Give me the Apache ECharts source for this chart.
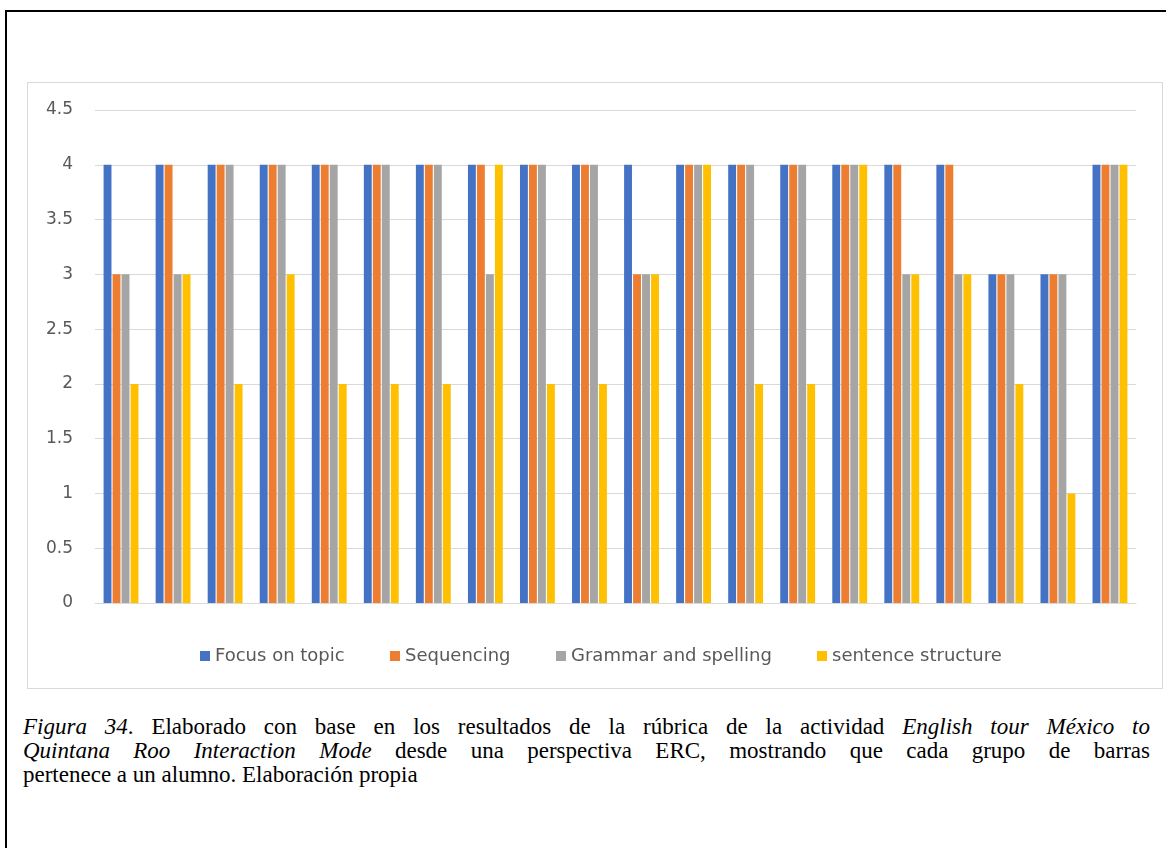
<!DOCTYPE html>
<html>
<head>
<meta charset="utf-8">
<script src="https://cdn.jsdelivr.net/npm/echarts@6/dist/echarts.min.js"></script>
<style>
  html, body { margin: 0; padding: 0; background: #fff; width: 1166px; height: 848px; overflow: hidden; }
  #outer { position: absolute; left: 5px; top: 10px; width: 1200px; height: 900px; border: 2px solid #000; box-sizing: border-box; }
  #frame { position: absolute; left: 27px; top: 82px; width: 1136px; height: 607px; border: 1px solid #d9d9d9; box-sizing: border-box; background: #fff; }
  #chart { width: 1134px; height: 605px; }
  #caption { position: absolute; left: 23px; top: 715px; width: 1127px; font-family: "Liberation Serif", "Times New Roman", serif; font-size: 23px; line-height: 24px; color: #000; }
  .j { text-align: justify; text-align-last: justify; white-space: nowrap; }
  .l { text-align: left; }
  i { font-style: italic; }
</style>
</head>
<body>
<div id="outer"></div>
<div id="frame"><div id="chart"></div></div>
<div id="caption">
  <div class="j"><i>Figura 34</i>. Elaborado con base en los resultados de la rúbrica de la actividad <i>English tour México to</i></div>
  <div class="j"><i>Quintana Roo Interaction Mode</i> desde una perspectiva ERC, mostrando que cada grupo de barras</div>
  <div class="l">pertenece a un alumno. Elaboración propia</div>
</div>
<script>
const students = ["1","2","3","4","5","6","7","8","9","10","11","12","13","14","15","16","17","18","19","20"];
const seriesNames = ["Focus on topic", "Sequencing", "Grammar and spelling", "sentence structure"];
const focusOnTopic = [4,4,4,4,4,4,4,4,4,4,4,4,4,4,4,4,4,3,3,4];
const sequencing   = [3,4,4,4,4,4,4,4,4,4,3,4,4,4,4,4,4,3,3,4];
const grammar      = [3,3,4,4,4,4,4,3,4,4,3,4,4,4,4,3,3,3,3,4];
const sentence     = [2,3,2,3,2,2,2,4,2,2,3,4,2,2,4,3,3,2,1,4];
const colors = ["#4472C4", "#ED7D31", "#A5A5A5", "#FFC000"];

const chart = echarts.init(document.getElementById('chart'), null, { renderer: 'canvas' });
const values = [focusOnTopic, sequencing, grammar, sentence];
const legendLefts = [167, 357, 523, 784];
chart.setOption({
  animation: false,
  color: colors,
  grid: { left: 67, right: 26, top: 27, bottom: 85, containLabel: false },
  legend: seriesNames.map((n, i) => ({
    data: [n],
    left: legendLefts[i],
    top: 559,
    itemWidth: 10,
    itemHeight: 10,
    icon: 'rect',
    textStyle: { color: '#595959', fontSize: 18, fontFamily: 'DejaVu Sans' }
  })),
  xAxis: {
    type: 'category',
    data: students,
    axisLine: { show: true, lineStyle: { color: '#d9d9d9', width: 1 } },
    axisTick: { show: false },
    axisLabel: { show: false }
  },
  yAxis: {
    type: 'value',
    min: 0, max: 4.5, interval: 0.5,
    axisLine: { show: false },
    axisTick: { show: false },
    axisLabel: { color: '#595959', fontSize: 17, fontFamily: 'DejaVu Sans', margin: 22 },
    splitLine: { lineStyle: { color: '#d9d9d9', width: 1 } }
  },
  series: seriesNames.map((n, i) => ({
    name: n,
    type: 'bar',
    data: values[i],
    barGap: '14%',
    barCategoryGap: '33%',
    itemStyle: { color: colors[i] }
  }))
});
</script>
</body>
</html>
